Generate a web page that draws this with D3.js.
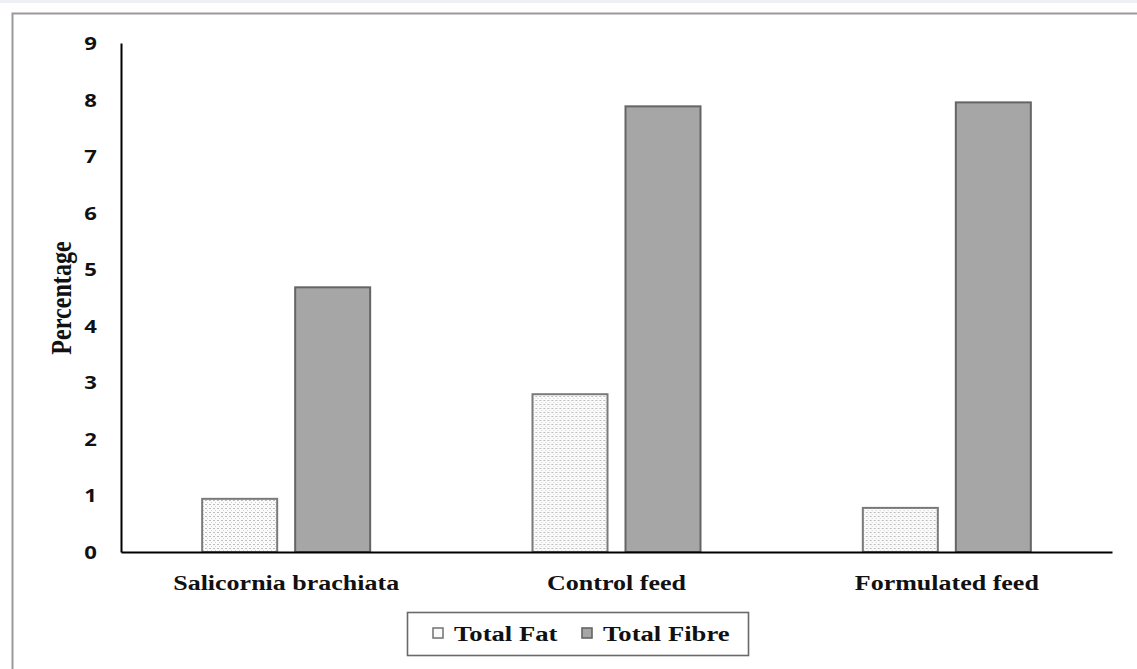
<!DOCTYPE html>
<html>
<head>
<meta charset="utf-8">
<script src="https://cdn.jsdelivr.net/npm/d3@7"></script>
<style>
  html, body { margin: 0; padding: 0; background: #fff; }
  svg { display: block; }
</style>
</head>
<body>
<div id="chart"></div>
<script>
// Proximate composition: fat and fibre content (%)
const categories = ["Salicornia brachiata", "Control feed", "Formulated feed"];
const seriesNames = ["Total Fat", "Total Fibre"];
const totalFat = [0.94, 2.79, 0.78];
const totalFibre = [4.68, 7.88, 7.95];
const yTicks = [0, 1, 2, 3, 4, 5, 6, 7, 8, 9];

const W = 1137, H = 669;
const margin = { left: 121, right: 25, top: 43, bottom: 117 };
const stretch = 1.3; // horizontal text scaling of the figure

const svg = d3.select("#chart").append("svg")
  .attr("width", W).attr("height", H);

// page background band and figure frame
svg.append("rect").attr("x", 0).attr("y", 0).attr("width", W).attr("height", H).attr("fill", "#fff");
svg.append("rect").attr("x", 0).attr("y", 0).attr("width", W).attr("height", 3).attr("fill", "#eef0f3");
svg.append("rect").attr("x", 12.5).attr("y", 13.5).attr("width", W).attr("height", H)
  .attr("fill", "none").attr("stroke", "#9a9a9a").attr("stroke-width", 2);

// dotted fill for the fat bars
const defs = svg.append("defs");
const pat = defs.append("pattern").attr("id", "dots")
  .attr("patternUnits", "userSpaceOnUse").attr("width", 4).attr("height", 4);
pat.append("rect").attr("width", 4).attr("height", 4).attr("fill", "#fbfbfb");
pat.append("rect").attr("x", 0).attr("y", 0).attr("width", 2).attr("height", 1).attr("fill", "#bdbdbd");
pat.append("rect").attr("x", 2).attr("y", 2).attr("width", 1).attr("height", 1).attr("fill", "#d0d0d0");

const x0 = d3.scaleBand().domain(categories)
  .range([margin.left, W - margin.right]).padding(0);
const inner = 168;
const x1 = d3.scaleBand().domain(seriesNames)
  .range([(x0.bandwidth() - inner) / 2, (x0.bandwidth() + inner) / 2])
  .paddingInner(0.1935).paddingOuter(0);
const y = d3.scaleLinear().domain([0, 9]).range([H - margin.bottom, margin.top]);

const fills = { "Total Fat": "url(#dots)", "Total Fibre": "#a6a6a6" };
const strokes = { "Total Fat": "#7a7a7a", "Total Fibre": "#656565" };

const rows = categories.map((c, i) => ({ cat: c, vals: [
  { key: "Total Fat", v: totalFat[i] },
  { key: "Total Fibre", v: totalFibre[i] }
]}));

const groups = svg.append("g").selectAll("g").data(rows).join("g")
  .attr("transform", d => `translate(${x0(d.cat)},0)`);
groups.selectAll("rect").data(d => d.vals).join("rect")
  .attr("x", d => x1(d.key))
  .attr("width", x1.bandwidth())
  .attr("y", d => y(d.v))
  .attr("height", d => y(0) - y(d.v))
  .attr("fill", d => fills[d.key])
  .attr("stroke", d => strokes[d.key])
  .attr("stroke-width", 2);

// y axis: line only, bold numeric labels
const yAxis = d3.axisLeft(y).tickValues(yTicks).tickSize(0).tickPadding(0);
const gy = svg.append("g").attr("transform", `translate(${margin.left},0)`).call(yAxis);
gy.select(".domain").attr("stroke", "#000").attr("stroke-width", 2);
gy.selectAll(".tick text")
  .attr("x", 0).attr("dy", null).attr("dominant-baseline", "central")
  .attr("text-anchor", "end")
  .attr("transform", "translate(-24,0) scale(1.3,1)")
  .attr("font-family", "'Open Sans', sans-serif").attr("font-weight", 700)
  .attr("font-size", 17).attr("fill", "#111");

// x axis: baseline and bold serif category labels
const xAxis = d3.axisBottom(x0).tickSize(0).tickPadding(0);
const gx = svg.append("g").attr("transform", `translate(0,${y(0)})`).call(xAxis);
gx.select(".domain").attr("stroke", "#000").attr("stroke-width", 2.2);
gx.selectAll(".tick text")
  .attr("y", 0).attr("dy", null)
  .attr("transform", `translate(0,38) scale(${stretch},1)`)
  .attr("font-family", "'Liberation Serif', 'Times New Roman', serif").attr("font-weight", 700)
  .attr("font-size", 20).attr("fill", "#111");

// y axis title
svg.append("text")
  .attr("transform", `translate(71,298) rotate(-90) scale(1.05,1.25)`)
  .attr("text-anchor", "middle")
  .attr("font-family", "'Liberation Serif', 'Times New Roman', serif").attr("font-weight", 700)
  .attr("font-size", 23).attr("fill", "#111")
  .text("Percentage");

// legend
const legend = svg.append("g").attr("transform", "translate(407,612)");
legend.append("rect").attr("x", 0.5).attr("y", 0.5).attr("width", 341).attr("height", 43)
  .attr("fill", "#fff").attr("stroke", "#6a6a6a").attr("stroke-width", 1.6);
const legendX = [26, 175];
const items = legend.selectAll("g.item").data(seriesNames).join("g").attr("class", "item")
  .attr("transform", (d, i) => `translate(${legendX[i]},16)`);
items.append("rect").attr("width", 10).attr("height", 10)
  .attr("fill", d => d === "Total Fat" ? "#fbfbfb" : "#a6a6a6")
  .attr("stroke", d => strokes[d]).attr("stroke-width", 1.6);
items.append("text")
  .attr("transform", `translate(21,12.5) scale(${stretch},1)`)
  .attr("font-family", "'Liberation Serif', 'Times New Roman', serif").attr("font-weight", 700)
  .attr("font-size", 20.5).attr("fill", "#111")
  .text(d => d);
</script>
</body>
</html>
